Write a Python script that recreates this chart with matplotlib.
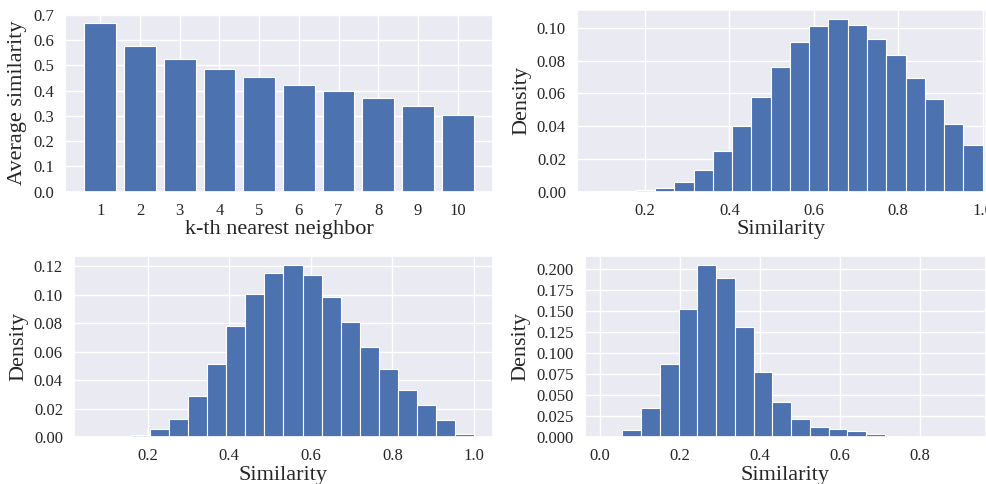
import matplotlib
matplotlib.use("Agg")
from matplotlib import pyplot as plt
import numpy as np
import seaborn as sns

# ============== data ==============
k_neighbors = [1, 2, 3, 4, 5, 6, 7, 8, 9, 10]
avg_similarity = [0.667, 0.578, 0.525, 0.485, 0.453, 0.423, 0.398, 0.370, 0.341, 0.304]

# histogram 1 (top right): 20 bins between lo and hi
h1_lo, h1_hi = 0.087, 1.0
h1_vals = [0.0002, 0.0003, 0.0008, 0.0022, 0.0059, 0.0134, 0.0246, 0.0403, 0.0576, 0.0760,
           0.0912, 0.1014, 0.1057, 0.1020, 0.0933, 0.0835, 0.0697, 0.0564, 0.0411, 0.0287]

# histogram 2 (bottom left)
h2_lo, h2_hi = 0.066, 1.0
h2_vals = [0.0001, 0.0002, 0.0019, 0.0056, 0.0130, 0.0291, 0.0510, 0.0781, 0.1007, 0.1151,
           0.1209, 0.1135, 0.0986, 0.0808, 0.0636, 0.0475, 0.0329, 0.0228, 0.0123, 0.0026]

# histogram 3 (bottom right)
h3_lo, h3_hi = 0.0094, 0.9454
h3_vals = [0.0001, 0.0083, 0.0345, 0.0867, 0.1525, 0.2055, 0.1901, 0.1315, 0.0780, 0.0424,
           0.0218, 0.0127, 0.0099, 0.0071, 0.0040, 0.0020, 0.0008, 0.0003, 0.0001, 0.0001]

sns.set_theme(style="darkgrid")
plt.rcParams['font.family'] = ['Liberation Serif', 'DejaVu Serif']
plt.rcParams['mathtext.fontset'] = 'stix'

BLUE = "#4C72B0"
TICK_FS = 12
LABEL_FS = 16

fig = plt.figure(figsize=(9.86, 4.84), dpi=100)
W, H = 986.0, 484.0


def place(left, top, right, bottom):
    return fig.add_axes([left / W, 1 - bottom / H, (right - left) / W, (bottom - top) / H])


ax1 = place(65, 14, 493, 191.7)
ax2 = place(577, 10, 986, 191.7)
ax3 = place(74, 256, 493, 437.3)
ax4 = place(585, 256, 986, 437.3)

# top-left: bar chart
ax1.bar(k_neighbors, avg_similarity, width=0.8, color=BLUE, edgecolor="white", linewidth=0.8)
ax1.set_xticks(k_neighbors)
ax1.set_ylim(0, 0.703)
ax1.set_yticks(np.arange(0, 0.71, 0.1))
ax1.set_xlabel("k-th nearest neighbor", fontsize=LABEL_FS, labelpad=1)
ax1.set_ylabel("Average similarity", fontsize=LABEL_FS, labelpad=4)


def draw_hist(ax, lo, hi, vals):
    edges = np.linspace(lo, hi, len(vals) + 1)
    ax.bar(edges[:-1], vals, width=np.diff(edges), align="edge",
           color=BLUE, edgecolor="white", linewidth=0.8)
    ax.set_ylabel("Density", fontsize=LABEL_FS, labelpad=4)
    ax.set_xlabel("Similarity", fontsize=LABEL_FS, labelpad=1)


draw_hist(ax2, h1_lo, h1_hi, h1_vals)
ax2.set_xlim(0.039, 1.008)
ax2.set_ylim(0, 0.111)
ax2.set_yticks(np.arange(0, 0.101, 0.02))

draw_hist(ax3, h2_lo, h2_hi, h2_vals)
ax3.set_xlim(0.019, 1.047)
ax3.set_ylim(0, 0.127)
ax3.set_yticks(np.arange(0, 0.121, 0.02))

draw_hist(ax4, h3_lo, h3_hi, h3_vals)
ax4.set_xlim(-0.037, 0.964)
ax4.set_ylim(0, 0.2158)
ax4.set_yticks(np.arange(0, 0.201, 0.025))
ax4.set_xticks([0.0, 0.2, 0.4, 0.6, 0.8])

for ax in (ax1, ax2, ax3, ax4):
    ax.tick_params(labelsize=TICK_FS, pad=2)

fig.savefig("out.png", dpi=100)
